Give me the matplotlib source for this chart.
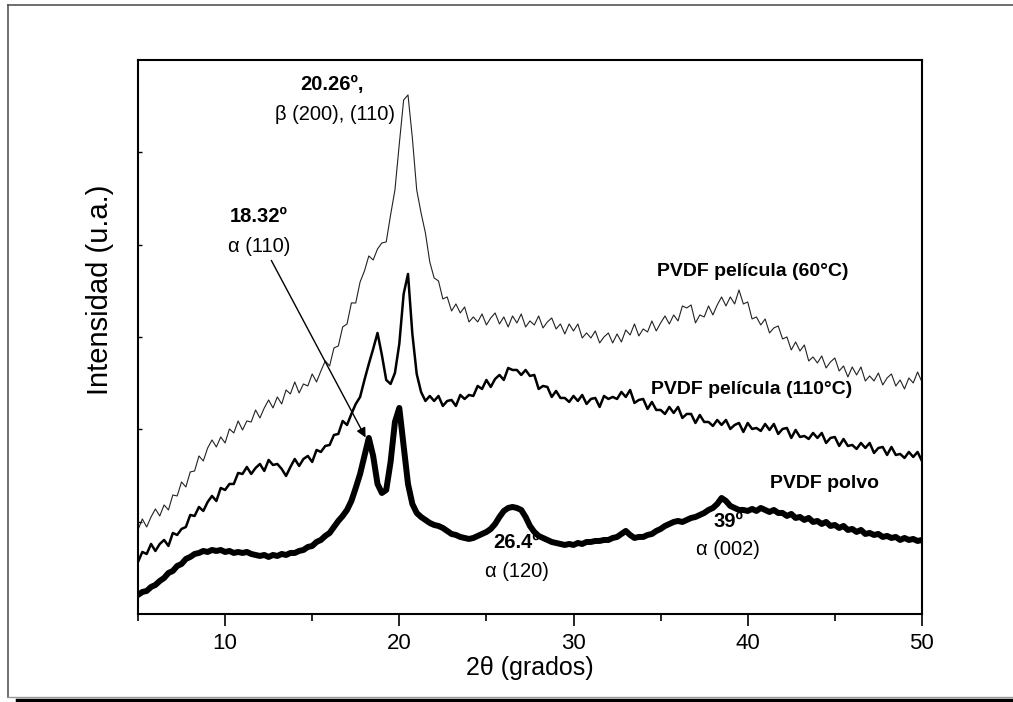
import numpy as np
import matplotlib
matplotlib.use('Agg')
import matplotlib.pyplot as plt
from matplotlib.lines import Line2D

plt.rcParams['font.family'] = ['Liberation Sans', 'DejaVu Sans']

# 2theta grid of the scans (0.25 deg step, 5..50)
two_theta = np.arange(5, 50.001, 0.25)

# PVDF pelicula (60 C) - thin noisy trace
pel60 = [
    84, 95, 87, 97,
    105, 98, 109, 104,
    119, 118, 132, 127,
    142, 143, 158, 153,
    166, 174, 167, 177,
    171, 185, 181, 193,
    184, 193, 192, 204,
    196, 206, 214, 206,
    217, 210, 224, 220,
    232, 221, 230, 228,
    240, 232, 243, 253,
    248, 266, 268, 287,
    290, 311, 311, 332,
    343, 358, 354, 365,
    371, 372, 399, 424,
    470, 514, 519, 476,
    424, 401, 381, 352,
    336, 333, 315, 317,
    303, 310, 301, 307,
    292, 297, 292, 300,
    289, 296, 301, 290,
    297, 287, 298, 291,
    300, 287, 293, 289,
    298, 286, 292, 296,
    285, 290, 280, 290,
    283, 290, 276, 281,
    276, 283, 271, 277,
    281, 271, 280, 272,
    284, 279, 290, 278,
    285, 282, 293, 283,
    291, 298, 290, 299,
    293, 308, 306, 309,
    291, 299, 297, 308,
    299, 309, 317, 308,
    317, 310, 324, 310,
    312, 295, 297, 289,
    295, 281, 286, 288,
    275, 277, 264, 272,
    263, 269, 253, 257,
    251, 258, 246, 252,
    256, 243, 248, 237,
    247, 239, 247, 233,
    238, 233, 241, 229,
    236, 240, 228, 234,
    225, 236, 231, 242,
    232]

# PVDF pelicula (110 C) - medium trace
pel110 = [
    52, 62, 60, 70,
    63, 70, 74, 68,
    81, 79, 85, 87,
    99, 98, 107, 103,
    112, 118, 113, 126,
    124, 130, 130, 141,
    140, 147, 140, 146,
    150, 143, 154, 149,
    150, 145, 138, 147,
    155, 148, 155, 158,
    152, 164, 162, 168,
    169, 179, 180, 193,
    189, 200, 210, 217,
    234, 250, 265, 281,
    259, 234, 230, 241,
    270, 320, 340, 280,
    240, 222, 213, 218,
    213, 218, 208, 213,
    214, 208, 219, 215,
    219, 218, 228, 225,
    234, 227, 235, 239,
    234, 246, 244, 244,
    239, 244, 238, 239,
    225, 228, 227, 217,
    223, 216, 216, 212,
    218, 213, 219, 210,
    215, 216, 207, 218,
    215, 217, 215, 222,
    217, 224, 211, 214,
    215, 205, 212, 204,
    204, 200, 207, 201,
    207, 196, 200, 200,
    191, 199, 192, 192,
    188, 194, 189, 194,
    185, 189, 191, 182,
    191, 185, 186, 183,
    190, 184, 190, 180,
    185, 186, 176, 184,
    177, 178, 175, 181,
    176, 181, 171, 176,
    177, 168, 175, 168,
    169, 165, 171, 166,
    171, 161, 166, 167,
    159, 167, 159, 160,
    156, 162, 157, 162,
    153]

# PVDF polvo - thick trace
polvo = [
    19, 22, 23, 27,
    29, 33, 36, 41,
    43, 48, 50, 55,
    57, 60, 61, 63,
    62, 64, 63, 64,
    62, 63, 61, 62,
    61, 62, 60, 59,
    58, 59, 57, 59,
    58, 60, 59, 61,
    61, 63, 64, 67,
    68, 72, 74, 78,
    81, 87, 93, 98,
    104, 113, 126, 140,
    158, 176, 158, 130,
    121, 124, 152, 192,
    206, 168, 130, 110,
    101, 97, 94, 91,
    89, 88, 86, 83,
    80, 79, 77, 76,
    75, 76, 78, 80,
    82, 85, 90, 97,
    103, 106, 107, 106,
    104, 97, 88, 82,
    78, 76, 74, 72,
    71, 70, 69, 70,
    69, 71, 70, 72,
    72, 73, 73, 74,
    74, 76, 77, 80,
    83, 79, 76, 77,
    77, 79, 80, 83,
    85, 88, 90, 92,
    93, 92, 94, 96,
    97, 99, 101, 104,
    106, 110, 116, 113,
    108, 106, 104, 104,
    103, 105, 103, 106,
    104, 102, 104, 101,
    101, 98, 100, 96,
    97, 94, 96, 92,
    93, 90, 92, 88,
    89, 86, 88, 84,
    85, 82, 84, 80,
    81, 79, 80, 77,
    78, 76, 77, 74,
    76, 74, 75, 73,
    74]

fig = plt.figure(figsize=(10.13, 7.02), dpi=100)
ax = fig.add_axes([0.1362, 0.1254, 0.7739, 0.7892])

ax.plot(two_theta, polvo, color='k', lw=4.3, solid_joinstyle='round')
ax.plot(two_theta, pel110, color='k', lw=1.8)
ax.plot(two_theta, pel60, color='#222222', lw=0.8)

ax.set_xlim(5, 50)
ax.set_ylim(0, 554)
ax.set_xticks([10, 20, 30, 40, 50])
ax.set_xticks([5, 15, 25, 35, 45], minor=True)
ax.tick_params(axis='x', which='major', direction='out', length=8.5, width=1.2,
               labelsize=16, pad=5)
ax.tick_params(axis='x', which='minor', direction='out', length=5, width=1.2)
ax.set_yticks(np.linspace(0, 554, 7)[1:-1])
ax.set_yticklabels([])
ax.tick_params(axis='y', direction='in', length=3, width=1)
for s in ax.spines.values():
    s.set_linewidth(1.5)

ax.set_xlabel('2θ (grados)', fontsize=18)
ax.xaxis.label.set_va('center')
ax.xaxis.set_label_coords(0.5, -0.0975)
ax.set_ylabel('Intensidad (u.a.)', fontsize=21)
ax.yaxis.label.set_va('center')
ax.yaxis.set_label_coords(-0.0485, 0.585)

fs = 14.5
ax.text(16.14, 529, '20.26º,', fontsize=fs, fontweight='bold', ha='center', va='center')
ax.text(16.31, 499, 'β (200), (110)', fontsize=fs, ha='center', va='center')
ax.text(11.95, 397, '18.32º', fontsize=fs, fontweight='bold', ha='center', va='center')
ax.text(11.95, 367, 'α (110)', fontsize=fs, ha='center', va='center')
ax.annotate('', xy=(18.14, 174), xytext=(12.58, 356),
            arrowprops=dict(arrowstyle='-|>', color='k', lw=1, mutation_scale=14))
ax.text(26.76, 71, '26.4º', fontsize=fs, fontweight='bold', ha='center', va='center')
ax.text(26.76, 42, 'α (120)', fontsize=fs, ha='center', va='center')
ax.text(38.92, 92, '39º', fontsize=fs, fontweight='bold', ha='center', va='center')
ax.text(38.87, 64, 'α (002)', fontsize=fs, ha='center', va='center')

ax.text(40.30, 342, 'PVDF película (60°C)', fontsize=14, fontweight='bold', ha='center', va='center')
ax.text(40.24, 224, 'PVDF película (110°C)', fontsize=14, fontweight='bold', ha='center', va='center')
ax.text(44.38, 130, 'PVDF polvo', fontsize=14, fontweight='bold', ha='center', va='center')

# outer frame around the figure
fig.add_artist(Line2D([0.0079, 1], [0.9929, 0.9929], color='#555555', lw=1.2))
fig.add_artist(Line2D([0.0079, 0.0079], [0.0071, 0.9929], color='#555555', lw=1.2))
fig.add_artist(Line2D([0.0079, 1], [0.0071, 0.0071], color='#999999', lw=1))
fig.add_artist(Line2D([0.0168, 1], [0.0025, 0.0025], color='k', lw=2.5))

fig.savefig('out.png', dpi=100)
